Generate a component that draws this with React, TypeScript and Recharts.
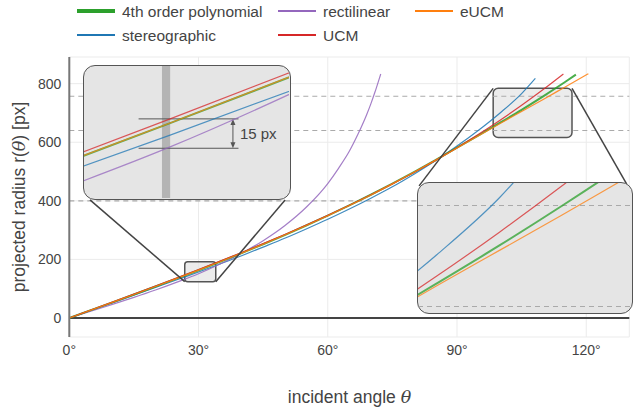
import { LineChart, Line, XAxis, YAxis, CartesianGrid, ReferenceLine, ReferenceArea } from 'recharts'

const FONT = '"Liberation Sans", Arial, Helvetica, sans-serif'
const INK = '#444'

// incident angle [deg] -> projected radius [px]
const POLY_DEG = [0, 5, 10, 15, 20, 25, 30, 35, 40, 45, 50, 55, 60, 65, 70, 75, 80, 85, 90, 95, 100, 105, 110, 115, 117.6]
const POLY_R = [0, 26.6, 53.3, 80.2, 107.4, 135.0, 163.1, 191.8, 221.3, 251.7, 283.1, 315.6, 349.3, 384.3, 420.7, 458.6, 498.0, 538.9, 581.2, 623.7, 666.7, 710.7, 756.7, 804.7, 830.7]

const RECT_DEG = [0, 5, 10, 15, 20, 25, 30, 35, 40, 45, 50, 55, 60, 62.5, 65, 67, 69, 70, 71, 72, 72.3]
const RECT_R = [0, 22.9, 46.2, 70.2, 95.4, 122.4, 151.0, 184.2, 221.0, 264.0, 315.0, 378.0, 459.0, 511.0, 569.0, 627.0, 693.0, 731.0, 773.0, 819.0, 833.0]

const EUCM_DEG = [0, 5, 10, 15, 20, 25, 30, 35, 40, 45, 50, 55, 60, 65, 70, 75, 80, 85, 90, 95, 100, 105, 110, 115, 120.5]
const EUCM_R = [0, 26.7, 53.4, 80.3, 107.5, 135.1, 163.2, 192.0, 221.5, 251.8, 283.1, 315.5, 349.0, 383.8, 420.0, 457.8, 497.2, 538.0, 580.0, 622.0, 664.0, 705.0, 746.0, 788.0, 834.0]

const STEREO_DEG = [0, 5, 10, 15, 20, 25, 30, 35, 40, 45, 50, 55, 60, 65, 70, 75, 80, 85, 90, 95, 100, 105, 108.2]
const STEREO_R = [0, 25.8, 51.6, 77.7, 104.0, 130.5, 157.0, 184.5, 212.5, 242.0, 272.0, 304.0, 337.0, 372.0, 409.0, 448.0, 491.0, 537.0, 587.0, 641.0, 700.0, 766.0, 818.0]

const UCM_DEG = [0, 5, 10, 15, 20, 25, 30, 35, 40, 45, 50, 55, 60, 65, 70, 75, 80, 85, 90, 95, 100, 105, 110, 114.7]
const UCM_R = [0, 27.1, 54.2, 81.5, 109.1, 137.0, 165.3, 194.2, 223.7, 253.9, 284.9, 317.0, 350.2, 384.6, 420.4, 457.8, 496.9, 538.1, 581.3, 627.0, 675.2, 726.1, 779.9, 833.0]

const X_TICKS = [0, 30, 60, 90, 120]
const Y_TICKS = [0, 200, 400, 600, 800]
const DASHED_R = [400, 640, 757]

type Series = { key: string; name: string; color: string; width: number; deg: number[]; r: number[] }

const POLY: Series = { key: 'poly', name: '4th order polynomial', color: '#2ca02c', width: 2, deg: POLY_DEG, r: POLY_R }
const RECT: Series = { key: 'rect', name: 'rectilinear', color: '#9467bd', width: 1.2, deg: RECT_DEG, r: RECT_R }
const EUCM: Series = { key: 'eucm', name: 'eUCM', color: '#ff7f0e', width: 1.2, deg: EUCM_DEG, r: EUCM_R }
const STEREO: Series = { key: 'stereo', name: 'stereographic', color: '#1f77b4', width: 1.2, deg: STEREO_DEG, r: STEREO_R }
const UCM: Series = { key: 'ucm', name: 'UCM', color: '#d62728', width: 1.2, deg: UCM_DEG, r: UCM_R }

// drawing order (last on top)
const DRAW = [STEREO, RECT, POLY, UCM, EUCM]
// legend: row-major, 3 columns
const LEGEND = [POLY, RECT, EUCM, STEREO, UCM]
const LEGEND_COLS = [77, 278, 415]
const LEGEND_ROWS = [11, 35]

const pts = (s: Series) => s.deg.map((d, i) => ({ x: d, y: s.r[i] }))

// zoom windows
const LEFT_ZOOM = { x: [26.8, 34.0], y: [124, 192.2] }
const LEFT_VIEW = { x: [27.05, 34.07], y: [124.9, 192.3] }
const RIGHT_ZOOM = { x: [98.4, 116.7], y: [616, 784] }
const RIGHT_VIEW = { x: [98.5, 115.5], y: [633.6, 783.1] }

function XTitle() {
  return (
    <text x={349.5} y={403} textAnchor="middle" fill={INK} fontSize={17.5} fontFamily={FONT}>
      incident angle{' '}
      <tspan fontFamily='"DejaVu Serif", serif' fontStyle="italic">θ</tspan>
    </text>
  )
}

function YTitle() {
  return (
    <text transform="rotate(-90)" x={-197} y={25} textAnchor="middle" fill={INK} fontSize={17.5} fontFamily={FONT}>
      projected radius r(<tspan fontFamily='"DejaVu Serif", serif' fontStyle="italic">θ</tspan>) [px]
    </text>
  )
}

function ArrowShape(p: any) {
  const x = p.x1
  const top = Math.min(p.y1, p.y2)
  const bot = Math.max(p.y1, p.y2)
  return (
    <g>
      <line x1={x} y1={top + 4} x2={x} y2={bot - 4} stroke="#555" strokeWidth={1} />
      <path d={`M${x},${top} L${x - 2.5},${top + 6} L${x + 2.5},${top + 6} Z`} fill="#555" />
      <path d={`M${x},${bot} L${x - 2.5},${bot - 6} L${x + 2.5},${bot - 6} Z`} fill="#555" />
      <text x={x + 7} y={(top + bot) / 2} dominantBaseline="central" fill={INK} fontSize={15} fontFamily={FONT}>
        15 px
      </text>
    </g>
  )
}

function Legend() {
  return (
    <svg width={635} height={50} style={{ position: 'absolute', left: 0, top: 0 }}>
      {LEGEND.map((s, i) => {
        const x = LEGEND_COLS[i % 3]
        const y = LEGEND_ROWS[Math.floor(i / 3)]
        return (
          <g key={s.key}>
            <line x1={x} y1={y} x2={x + 38} y2={y} stroke={s.color} strokeWidth={s.key === 'poly' ? 4 : 2} />
            <text x={x + 45} y={y} dominantBaseline="central" fill={INK} fontSize={15.5} fontFamily={FONT}>
              {s.name}
            </text>
          </g>
        )
      })}
    </svg>
  )
}

type Box = { x: number; y: number; w: number; h: number }

function Inset({ box, view, children }: { box: Box; view: { x: number[]; y: number[] }; children?: any }) {
  return (
    <div
      style={{
        position: 'absolute', left: box.x, top: box.y, width: box.w, height: box.h,
        boxSizing: 'border-box', border: '1.5px solid #555', borderRadius: 12,
        background: '#e5e5e5', overflow: 'hidden',
      }}
    >
      <LineChart width={box.w - 3} height={box.h - 3} margin={{ top: 0, right: 0, bottom: 0, left: 0 }}>
        <XAxis type="number" dataKey="x" domain={view.x} allowDataOverflow hide />
        <YAxis type="number" dataKey="y" domain={view.y} allowDataOverflow hide />
        {children}
        {DRAW.map(s => (
          <Line
            key={s.key}
            data={pts(s)}
            dataKey="y"
            type="monotone"
            stroke={s.color}
            strokeWidth={s.width}
            strokeOpacity={0.75}
            dot={false}
            isAnimationActive={false}
          />
        ))}
      </LineChart>
    </div>
  )
}

export default function App() {
  return (
    <div style={{ position: 'absolute', left: 0, top: 0, width: 635, height: 408, background: '#fff' }}>
      <LineChart width={635} height={408} margin={{ top: 57, right: 5.7, bottom: 0, left: 0 }}>
        <CartesianGrid stroke="#ebebeb" strokeWidth={1} />
        <XAxis
          type="number"
          dataKey="x"
          domain={[0, 130]}
          ticks={X_TICKS}
          allowDataOverflow
          height={71}
          axisLine={false}
          tickLine={false}
          tick={{ fill: INK, fontSize: 14, fontFamily: FONT }}
          tickFormatter={(v: number) => `${v}°`}
          label={<XTitle />}
        />
        <YAxis
          type="number"
          dataKey="y"
          domain={[-65, 891]}
          ticks={Y_TICKS}
          allowDataOverflow
          width={69.3}
          axisLine={{ stroke: '#777', strokeWidth: 2 }}
          tickLine={false}
          tick={{ fill: INK, fontSize: 14, fontFamily: FONT }}
          label={<YTitle />}
        />
        {DASHED_R.map(r => (
          <ReferenceLine key={r} y={r} stroke="#aaa" strokeWidth={1.2} strokeDasharray="5 4" />
        ))}
        <ReferenceLine y={0} stroke="#444" strokeWidth={2} />
        <ReferenceArea
          x1={LEFT_ZOOM.x[0]} x2={LEFT_ZOOM.x[1]} y1={LEFT_ZOOM.y[0]} y2={LEFT_ZOOM.y[1]}
          fill="#e5e5e5" fillOpacity={0.75} stroke="#555" strokeWidth={1.5} radius={3}
        />
        <ReferenceArea
          x1={RIGHT_ZOOM.x[0]} x2={RIGHT_ZOOM.x[1]} y1={RIGHT_ZOOM.y[0]} y2={RIGHT_ZOOM.y[1]}
          fill="#e5e5e5" fillOpacity={0.75} stroke="#555" strokeWidth={1.5} radius={5}
        />
        {DRAW.map(s => (
          <Line
            key={s.key}
            data={pts(s)}
            dataKey="y"
            type="monotone"
            stroke={s.color}
            strokeWidth={s.width}
            strokeOpacity={0.85}
            dot={false}
            isAnimationActive={false}
          />
        ))}
        {/* connectors from the zoom windows to their insets */}
        <ReferenceLine segment={[{ x: 4.8, y: 403 }, { x: LEFT_ZOOM.x[0], y: LEFT_ZOOM.y[0] }]} stroke="#444" strokeWidth={1.5} />
        <ReferenceLine segment={[{ x: 50.1, y: 403 }, { x: LEFT_ZOOM.x[1], y: LEFT_ZOOM.y[0] }]} stroke="#444" strokeWidth={1.5} />
        <ReferenceLine segment={[{ x: RIGHT_ZOOM.x[0], y: RIGHT_ZOOM.y[1] }, { x: 81.2, y: 451 }]} stroke="#444" strokeWidth={1.5} />
        <ReferenceLine segment={[{ x: RIGHT_ZOOM.x[1], y: RIGHT_ZOOM.y[1] }, { x: 129.4, y: 457 }]} stroke="#444" strokeWidth={1.5} />
      </LineChart>

      <Legend />

      <Inset box={{ x: 83, y: 65, w: 208, h: 135 }} view={LEFT_VIEW}>
        <ReferenceArea x1={29.72} x2={30.0} fill="#b4b4b4" fillOpacity={1} stroke="none" />
        <ReferenceLine segment={[{ x: 28.92, y: 165.3 }, { x: 32.34, y: 165.3 }]} stroke="#555" strokeWidth={1} />
        <ReferenceLine segment={[{ x: 28.92, y: 150.3 }, { x: 32.34, y: 150.3 }]} stroke="#555" strokeWidth={1} />
        <ReferenceLine segment={[{ x: 32.15, y: 165.3 }, { x: 32.15, y: 150.3 }]} shape={ArrowShape} />
      </Inset>

      <Inset box={{ x: 417, y: 182, w: 216, h: 132 }} view={RIGHT_VIEW}>
        {DASHED_R.map(r => (
          <ReferenceLine key={r} y={r} stroke="#aaa" strokeWidth={1.2} strokeDasharray="5 4" />
        ))}
      </Inset>
    </div>
  )
}
